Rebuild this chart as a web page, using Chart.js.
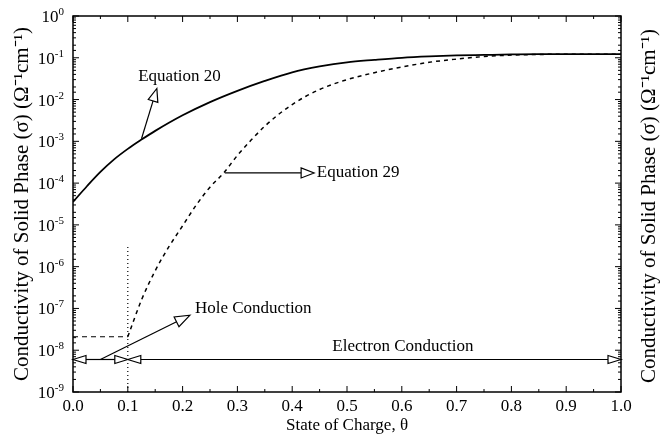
<!DOCTYPE html>
<html>
<head>
<meta charset="utf-8">
<script src="https://cdn.jsdelivr.net/npm/chart.js@4.4.1/dist/chart.umd.min.js"></script>
<style>
  html, body { margin: 0; padding: 0; background: #fff; }
</style>
</head>
<body>
<canvas id="chart" width="660" height="438"></canvas>
<script>
// values (sigma in ohm^-1 cm^-1)
var thetaEq20 = [0, 0.025, 0.05, 0.075, 0.1, 0.125, 0.15, 0.2, 0.25, 0.3, 0.35, 0.4, 0.45, 0.5, 0.55, 0.6, 0.65, 0.7, 0.75, 0.8, 0.85, 0.9, 1.0];
var sigmaEq20 = [3.55e-5, 8.3e-5, 1.85e-4, 3.7e-4, 6.6e-4, 1.1e-3, 1.78e-3, 4.2e-3, 8.7e-3, 1.62e-2, 2.8e-2, 4.5e-2, 6.2e-2, 7.8e-2, 8.9e-2, 0.1, 0.108, 0.114, 0.117, 0.12, 0.122, 0.122, 0.122];

var thetaEq29 = [0.1, 0.125, 0.15, 0.175, 0.2, 0.225, 0.25, 0.275, 0.3, 0.325, 0.35, 0.375, 0.4, 0.425, 0.45, 0.475, 0.5, 0.55, 0.6, 0.65, 0.7, 0.75, 0.8, 0.85, 0.9, 1.0];
var sigmaEq29 = [2.1e-8, 1.6e-7, 8e-7, 3e-6, 9.5e-6, 3e-5, 8e-5, 1.75e-4, 4.6e-4, 1.07e-3, 2.3e-3, 4.4e-3, 7.6e-3, 1.2e-2, 1.74e-2, 2.34e-2, 3.0e-2, 4.4e-2, 6.0e-2, 7.8e-2, 9.3e-2, 0.107, 0.116, 0.12, 0.122, 0.122];

var thetaHole = [0, 0.1];
var sigmaHole = [2.1e-8, 2.1e-8];

var thetaBoundary = [0.1, 0.1];
var sigmaBoundary = [1e-9, 3.3e-6];

var conductionLevel = 6e-9;

var serif = "'Liberation Serif', 'Times New Roman', serif";

function pts(xs, ys) {
  return xs.map(function(x, i){ return {x: x, y: ys[i]}; });
}

function line(ctx, x1, y1, x2, y2) {
  ctx.beginPath(); ctx.moveTo(x1, y1); ctx.lineTo(x2, y2); ctx.stroke();
}

// open (white) arrow head, tip at (x2,y2)
function head(ctx, x1, y1, x2, y2, len, half) {
  var a = Math.atan2(y2 - y1, x2 - x1);
  var bx = x2 - len * Math.cos(a), by = y2 - len * Math.sin(a);
  var nx = -Math.sin(a) * half, ny = Math.cos(a) * half;
  ctx.beginPath();
  ctx.moveTo(x2, y2);
  ctx.lineTo(bx + nx, by + ny);
  ctx.lineTo(bx - nx, by - ny);
  ctx.closePath();
  ctx.fillStyle = '#fff';
  ctx.fill();
  ctx.stroke();
  return {x: bx, y: by};
}

function arrow(ctx, x1, y1, x2, y2, len, half) {
  var b = head(ctx, x1, y1, x2, y2, len, half);
  line(ctx, x1, y1, b.x, b.y);
}

function dblArrow(ctx, x1, y, x2, len, half) {
  line(ctx, x1 + len, y, x2 - len, y);
  head(ctx, x2, y, x1, y, len, half);
  head(ctx, x1, y, x2, y, len, half);
}

var framePlugin = {
  id: 'frame',
  afterDatasetsDraw: function(chart) {
    var ctx = chart.ctx, a = chart.chartArea;
    var xs = chart.scales.x, ys = chart.scales.y;
    ctx.save();
    ctx.strokeStyle = '#000';
    ctx.lineWidth = 1.5;
    ctx.strokeRect(a.left, a.top, a.right - a.left, a.bottom - a.top);

    // inward ticks
    ctx.lineWidth = 1;
    xs.ticks.forEach(function(t) {
      var px = xs.getPixelForValue(t.value);
      var major = Math.abs(t.value * 10 - Math.round(t.value * 10)) < 1e-6;
      var len = major ? 6 : 3;
      line(ctx, px, a.bottom, px, a.bottom - len);
      line(ctx, px, a.top, px, a.top + len);
    });
    ctx.fillStyle = '#000';
    ys.ticks.forEach(function(t) {
      var py = ys.getPixelForValue(t.value);
      var lg = Math.log10(t.value);
      var e = Math.round(lg);
      var major = Math.abs(lg - e) < 1e-6;
      var len = major ? 6 : 3;
      line(ctx, a.left, py, a.left + len, py);
      line(ctx, a.right, py, a.right - len, py);
      if (major) {
        var exp = e === 0 ? '0' : '-' + (-e);
        ctx.font = '11px ' + serif;
        ctx.textAlign = 'right';
        ctx.textBaseline = 'alphabetic';
        var ew = ctx.measureText(exp).width;
        ctx.fillText(exp, 64, py - 1);
        ctx.font = '17px ' + serif;
        ctx.fillText('10', 64 - ew, py + 6);
      }
    });

    // right axis title (reads bottom to top, like the left one)
    ctx.save();
    ctx.translate(649, (a.top + a.bottom) / 2 + 2);
    ctx.rotate(-Math.PI / 2);
    ctx.font = '21px ' + serif;
    ctx.textAlign = 'center';
    ctx.textBaseline = 'middle';
    ctx.fillText(chart.options.scales.y.title.text, 0, 0);
    ctx.restore();

    // conduction arrows
    ctx.lineWidth = 1.2;
    var yc = ys.getPixelForValue(conductionLevel);
    dblArrow(ctx, xs.getPixelForValue(0), yc, xs.getPixelForValue(0.1), 13, 4);
    dblArrow(ctx, xs.getPixelForValue(0.1), yc, xs.getPixelForValue(1.0), 13, 4);

    // callouts
    arrow(ctx, xs.getPixelForValue(0.125), ys.getPixelForValue(1.15e-3),
               xs.getPixelForValue(0.153), ys.getPixelForValue(1.84e-2), 13, 5);
    arrow(ctx, xs.getPixelForValue(0.277), ys.getPixelForValue(1.75e-4),
               xs.getPixelForValue(0.44), ys.getPixelForValue(1.75e-4), 13, 5);
    arrow(ctx, xs.getPixelForValue(0.05), yc,
               xs.getPixelForValue(0.2135), ys.getPixelForValue(6.9e-8), 15, 5.5);

    ctx.fillStyle = '#000';
    ctx.font = '17px ' + serif;
    ctx.textAlign = 'left';
    ctx.textBaseline = 'middle';
    ctx.fillText('Equation 20', xs.getPixelForValue(0.119), ys.getPixelForValue(3.5e-2));
    ctx.fillText('Equation 29', xs.getPixelForValue(0.445), ys.getPixelForValue(1.75e-4));
    ctx.fillText('Hole Conduction', xs.getPixelForValue(0.2226), ys.getPixelForValue(1.0e-7));
    ctx.textAlign = 'center';
    ctx.fillText('Electron Conduction', xs.getPixelForValue(0.602), ys.getPixelForValue(1.25e-8));
    ctx.restore();
  }
};

var ctx = document.getElementById('chart').getContext('2d');
var chart = new Chart(ctx, {
  type: 'line',
  data: {
    datasets: [{
      label: 'Equation 20',
      data: pts(thetaEq20, sigmaEq20),
      borderColor: '#000',
      borderWidth: 1.8,
      pointRadius: 0,
      cubicInterpolationMode: 'monotone'
    }, {
      label: 'Equation 29',
      data: pts(thetaEq29, sigmaEq29),
      borderColor: '#000',
      borderWidth: 1.5,
      borderDash: [4, 4],
      pointRadius: 0,
      cubicInterpolationMode: 'monotone'
    }, {
      label: 'Hole level',
      data: pts(thetaHole, sigmaHole),
      borderColor: '#000',
      borderWidth: 1.2,
      borderDash: [5, 4],
      pointRadius: 0
    }, {
      label: 'Boundary',
      data: pts(thetaBoundary, sigmaBoundary),
      borderColor: '#000',
      borderWidth: 1.2,
      borderDash: [1, 3],
      pointRadius: 0
    }]
  },
  options: {
    responsive: false,
    animation: false,
    layout: { padding: { top: 16, right: 39, left: 0, bottom: 0 } },
    plugins: { legend: { display: false }, tooltip: { enabled: false } },
    scales: {
      x: {
        type: 'linear',
        min: 0,
        max: 1,
        grid: { display: false, drawTicks: false },
        border: { display: false },
        ticks: {
          stepSize: 0.05,
          autoSkip: false,
          maxRotation: 0,
          color: '#000',
          padding: 4,
          font: { family: serif, size: 17 },
          callback: function(v) {
            return Math.abs(v * 10 - Math.round(v * 10)) < 1e-6 ? v.toFixed(1) : '';
          }
        },
        title: {
          display: true,
          text: 'State of Charge, θ',
          color: '#000',
          font: { family: serif, size: 17 },
          padding: { top: 0, bottom: 2 }
        },
        afterFit: function(s) { s.height = 46; }
      },
      y: {
        type: 'logarithmic',
        min: 1e-9,
        max: 1,
        grid: { display: false },
        border: { display: false },
        ticks: { display: false },
        title: {
          display: true,
          text: 'Conductivity of Solid Phase (σ) (Ω⁻¹cm⁻¹)',
          color: '#000',
          font: { family: serif, size: 21 },
          padding: { top: 10, bottom: 0 }
        },
        afterFit: function(s) { s.width = 73; }
      }
    }
  },
  plugins: [framePlugin]
});
</script>
</body>
</html>
